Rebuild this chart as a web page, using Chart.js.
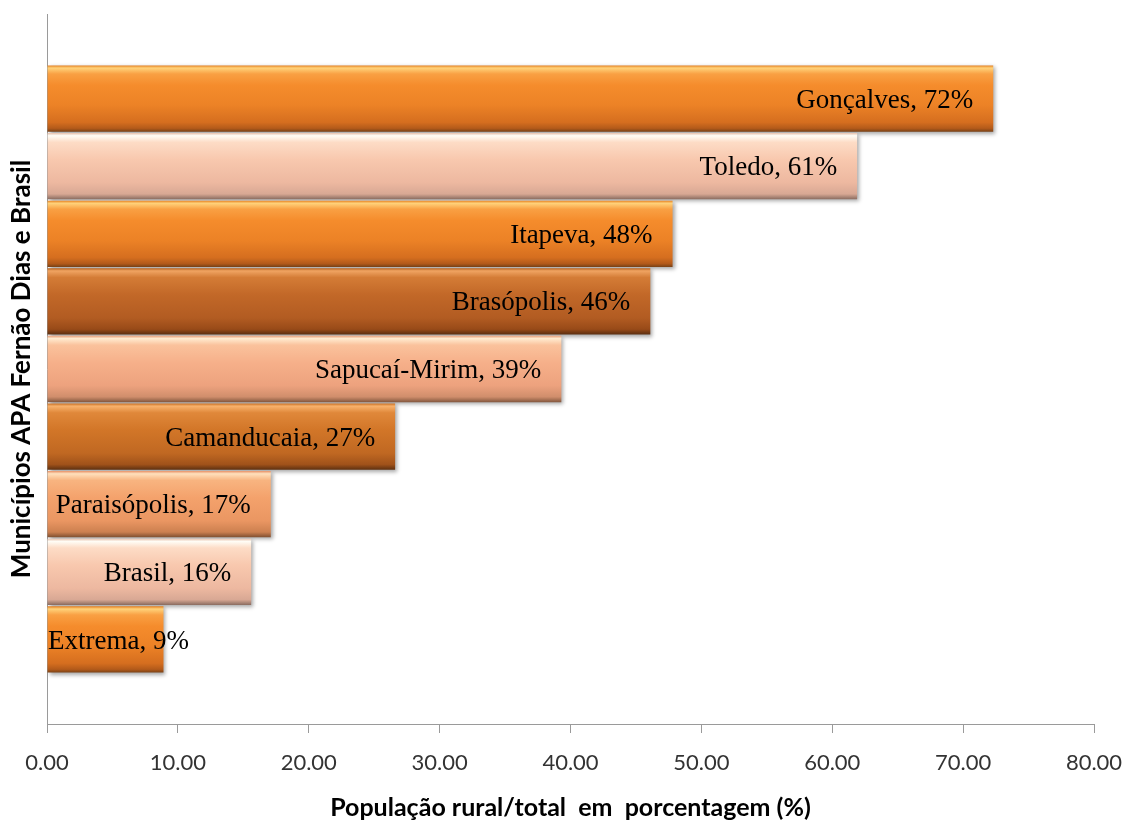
<!DOCTYPE html>
<html>
<head>
<meta charset="utf-8">
<script src="https://cdn.jsdelivr.net/npm/chart.js@4/dist/chart.umd.min.js"></script>
<style>
  body { margin: 0; background: #fff; }
  canvas { display: block; }
</style>
</head>
<body>
<canvas id="myChart" width="1128" height="823"></canvas>
<script>
const municipios = [
  "Gonçalves",
  "Toledo",
  "Itapeva",
  "Brasópolis",
  "Sapucaí-Mirim",
  "Camanducaia",
  "Paraisópolis",
  "Brasil",
  "Extrema",
];
const populacaoRural = [72.3, 61.9, 47.8, 46.1, 39.3, 26.6, 17.1, 15.6, 8.9];
const rotulos = ["72%", "61%", "48%", "46%", "39%", "27%", "17%", "16%", "9%"];
const posicoes = [1, 2, 3, 4, 5, 6, 7, 8, 9];
const xTicks = [0, 10, 20, 30, 40, 50, 60, 70, 80];

// gradient stops for each bar (top -> bottom)
const laranja = [[0, "#E57E1E"], [0.04, "#FFD27A"], [0.13, "#F9A043"], [0.3, "#F58C2C"], [0.6, "#EC8226"], [0.86, "#D56E1F"], [0.95, "#B35A1A"], [1, "#7A4216"]];
const claro = [[0, "#E6C0AC"], [0.04, "#FFFDF6"], [0.14, "#FDDCC6"], [0.4, "#F8C8AE"], [0.75, "#EDB8A0"], [0.92, "#D8A894"], [1, "#8A6C60"]];
const salmao = [[0, "#E8A07A"], [0.04, "#FFEBD0"], [0.14, "#FAC29C"], [0.4, "#F6B08A"], [0.75, "#EDA27E"], [0.92, "#D08E6C"], [1, "#84583F"]];
const salmao2 = [[0, "#E8946A"], [0.04, "#FFE0BC"], [0.14, "#F8B480"], [0.4, "#F4A26C"], [0.75, "#EA9662"], [0.92, "#CC8050"], [1, "#7E4E30"]];
const escuro = [[0, "#B8621E"], [0.04, "#F0A462"], [0.14, "#D47C36"], [0.4, "#C26828"], [0.75, "#B25C22"], [0.92, "#984A18"], [1, "#5A2E10"]];
const escuro2 = [[0, "#C86E20"], [0.04, "#F8B26C"], [0.14, "#E0883A"], [0.4, "#D27628"], [0.75, "#C06822"], [0.92, "#A0521A"], [1, "#5E3010"]];
const paleta = [laranja, claro, laranja, escuro, salmao, escuro2, salmao2, claro, laranja];

function corBarra(context) {
  const chart = context.chart;
  const stops = paleta[context.dataIndex];
  if (!chart.chartArea || !chart.scales.y) return stops[3][1];
  const y = chart.scales.y;
  const pos = posicoes[context.dataIndex];
  const top = y.getPixelForValue(pos - 0.49);
  const bottom = y.getPixelForValue(pos + 0.49);
  const g = chart.ctx.createLinearGradient(0, top, 0, bottom);
  stops.forEach((s) => g.addColorStop(s[0], s[1]));
  return g;
}

const sombra = {
  id: "sombra",
  beforeDatasetsDraw(chart) {
    const ctx = chart.ctx;
    ctx.save();
    ctx.shadowColor = "rgba(0,0,0,0.35)";
    ctx.shadowBlur = 4;
    ctx.shadowOffsetX = 2;
    ctx.shadowOffsetY = 2;
  },
  afterDatasetsDraw(chart) {
    chart.ctx.restore();
  },
};

const rotulosBarra = {
  id: "rotulosBarra",
  afterDatasetsDraw(chart) {
    const ctx = chart.ctx;
    const meta = chart.getDatasetMeta(0);
    ctx.save();
    ctx.font = "27px 'Liberation Serif', 'Times New Roman', serif";
    ctx.fillStyle = "#000";
    ctx.textBaseline = "middle";
    meta.data.forEach((bar, i) => {
      const texto = municipios[i] + ", " + rotulos[i];
      const w = ctx.measureText(texto).width;
      let x = bar.x - 20 - w;
      if (x < chart.chartArea.left + 1) x = chart.chartArea.left + 1;
      ctx.textAlign = "left";
      ctx.fillText(texto, x, bar.y + 2);
    });
    ctx.restore();
  },
};

const data = {
  datasets: [
    {
      label: "População rural",
      data: populacaoRural.map((v, i) => ({ x: v, y: posicoes[i] })),
      backgroundColor: corBarra,
      borderWidth: 0,
      barPercentage: 0.98,
      categoryPercentage: 1,
    },
  ],
};

const config = {
  type: "bar",
  data: data,
  plugins: [sombra, rotulosBarra],
  options: {
    indexAxis: "y",
    responsive: false,
    animation: false,
    layout: { padding: { top: 14, right: 34, left: 0, bottom: 0 } },
    plugins: {
      legend: { display: false },
      tooltip: { enabled: false },
    },
    scales: {
      x: {
        type: "linear",
        min: 0,
        max: 80,
        afterBuildTicks: (scale) => {
          scale.ticks = xTicks.map((v) => ({ value: v }));
        },
        afterFit: (scale) => {
          scale.height = 99;
          scale.paddingLeft = 0;
          scale.paddingRight = 0;
        },
        grid: {
          drawOnChartArea: false,
          drawTicks: true,
          tickLength: 9,
          color: "#9a9a9a",
        },
        border: { display: true, color: "#9a9a9a", width: 1 },
        ticks: {
          padding: 17,
          color: "#333",
          font: { family: "Lato", size: 22 },
          maxRotation: 0,
          callback: (v) => Number(v).toFixed(2),
        },
        title: {
          display: true,
          text: "População rural/total  em  porcentagem (%)",
          color: "#000",
          font: { family: "Lato", size: 25, weight: "bold" },
          padding: { top: 0, bottom: 0 },
        },
      },
      y: {
        type: "linear",
        reverse: true,
        offset: false,
        min: -0.25,
        max: 10.25,
        afterBuildTicks: (scale) => {
          scale.ticks = posicoes.map((v) => ({ value: v }));
        },
        afterFit: (scale) => {
          scale.width = 47;
        },
        grid: { display: false },
        border: { display: true, color: "#9a9a9a", width: 1 },
        ticks: { display: false },
        title: {
          display: true,
          text: "Municípios APA Fernão Dias e Brasil",
          color: "#000",
          font: { family: "Lato", size: 26, weight: "bold" },
          padding: { top: 6, bottom: 0 },
        },
      },
    },
  },
};

const lineChart = new Chart(document.querySelector("#myChart"), config);
</script>
</body>
</html>
